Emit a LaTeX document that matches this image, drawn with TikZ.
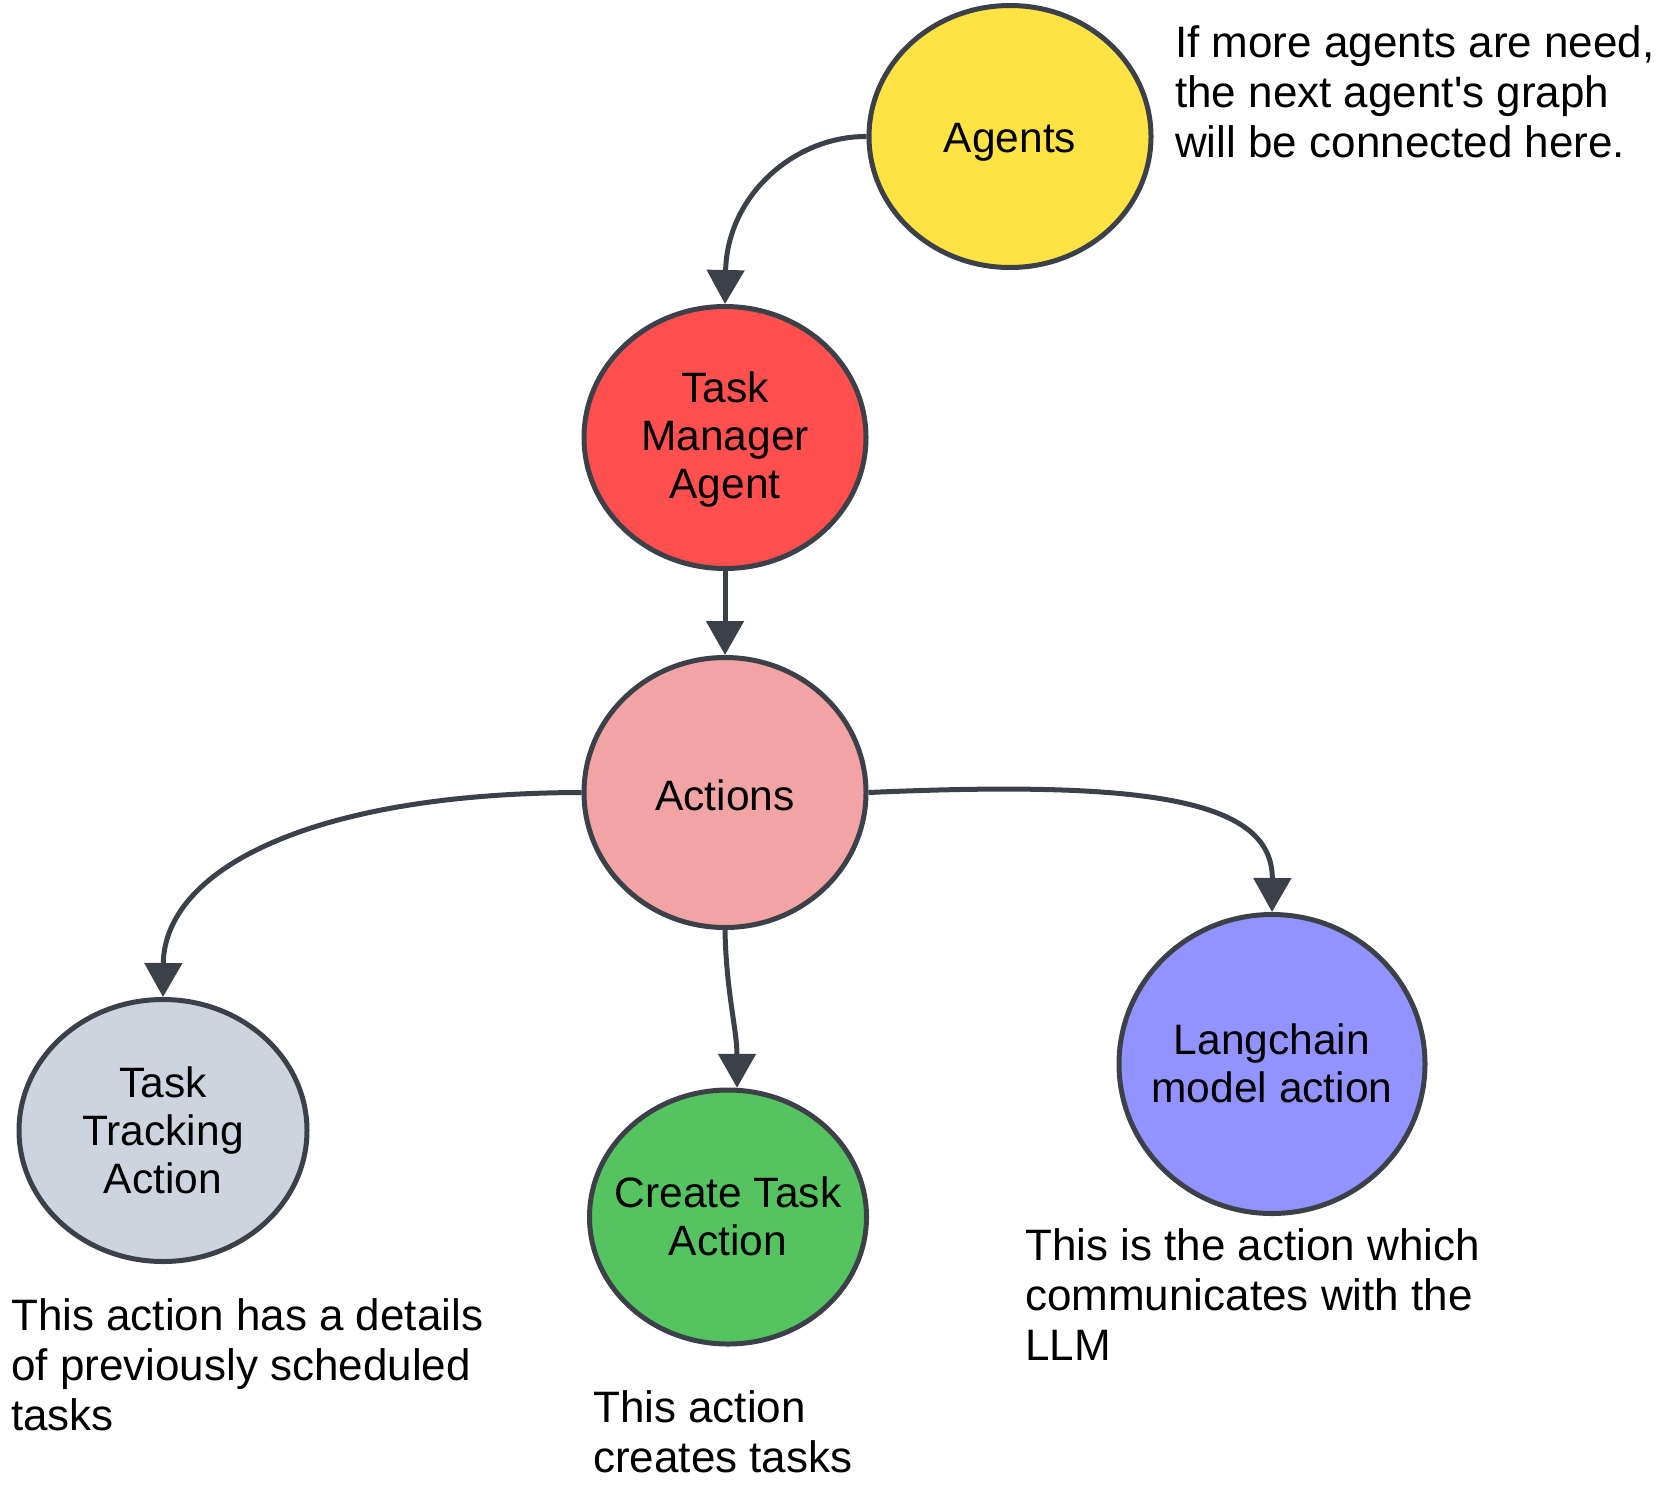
\documentclass[tikz,border=0pt]{standalone}
\usepackage{fontspec}
\setmainfont{Liberation Sans}[Ligatures=TeXOff]
\usetikzlibrary{shapes.geometric,arrows.meta}
\definecolor{edge}{HTML}{3B4049}
\definecolor{cyel}{HTML}{FFE345}
\definecolor{cred}{HTML}{FF4F4F}
\definecolor{cpink}{HTML}{F2A3A3}
\definecolor{cgrey}{HTML}{CED4DD}
\definecolor{cgreen}{HTML}{55C460}
\definecolor{cpurp}{HTML}{9393FF}
\begin{document}
\begin{tikzpicture}[x=1pt,y=-1pt,
  blob/.style={ellipse,draw=edge,line width=5pt,inner sep=0pt},
  txt/.style={inner sep=0pt,align=center,font=\fontsize{42.5}{48}\selectfont},
  note/.style={anchor=north west,inner sep=0pt,align=left,font=\fontsize{44}{50}\selectfont},
  conn/.style={draw=edge,line width=5pt,-{Triangle[width=37pt,length=34pt]}}]
\useasboundingbox (0,0) rectangle (1680,1491);
\node[blob,fill=cyel,minimum width=282pt,minimum height=262pt] (ag) at (1010,136.5) {};
\node[blob,fill=cred,minimum width=282pt,minimum height=262pt] (tm) at (725,437.5) {};
\node[blob,fill=cpink,minimum width=282pt,minimum height=270pt] (act) at (725,792.5) {};
\node[blob,fill=cgrey,minimum width=288pt,minimum height=262pt] (tt) at (163,1130.5) {};
\node[blob,fill=cgreen,minimum width=277pt,minimum height=254pt] (ct) at (728,1217) {};
\node[blob,fill=cpurp,minimum width=306pt,minimum height=299pt] (lc) at (1272,1064) {};
\node[txt] (agt) at ([yshift=-6pt]ag.center) {Agents};
\node[txt] (tmt) at ([yshift=-2pt]tm.center) {Task\\Manager\\Agent};
\node[txt] (actt) at ([yshift=-3pt]act.center) {Actions};
\node[txt] (ttt) at (tt.center) {Task\\Tracking\\Action};
\node[txt] (ctt) at ([yshift=1pt]ct.center) {Create Task\\Action};
\node[txt] (lct) at ([yshift=1pt]lc.center) {Langchain\\model action};
\draw[conn] (ag.west) .. controls (795,136) and (727,195) .. (tm.north);
\draw[conn] (tm.south) -- (act.north);
\draw[conn] (act.west) .. controls (310,793) and (164,870) .. (tt.north);
\draw[conn] (act.south) .. controls (726,990) and (737,1030) .. (ct.86);
\draw[conn] (act.east) .. controls (1150,780) and (1273,800) .. (lc.north);
\node[note] (n1) at (1175,25) {If more agents are need,\\the next agent's graph\\will be connected here.};
\node[note] (n2) at (11,1298) {This action has a details\\of previously scheduled\\tasks};
\node[note] (n3) at (593,1390) {This action\\creates tasks};
\node[note] (n4) at (1025,1228) {This is the action which\\communicates with the\\LLM};
\end{tikzpicture}
\end{document}
